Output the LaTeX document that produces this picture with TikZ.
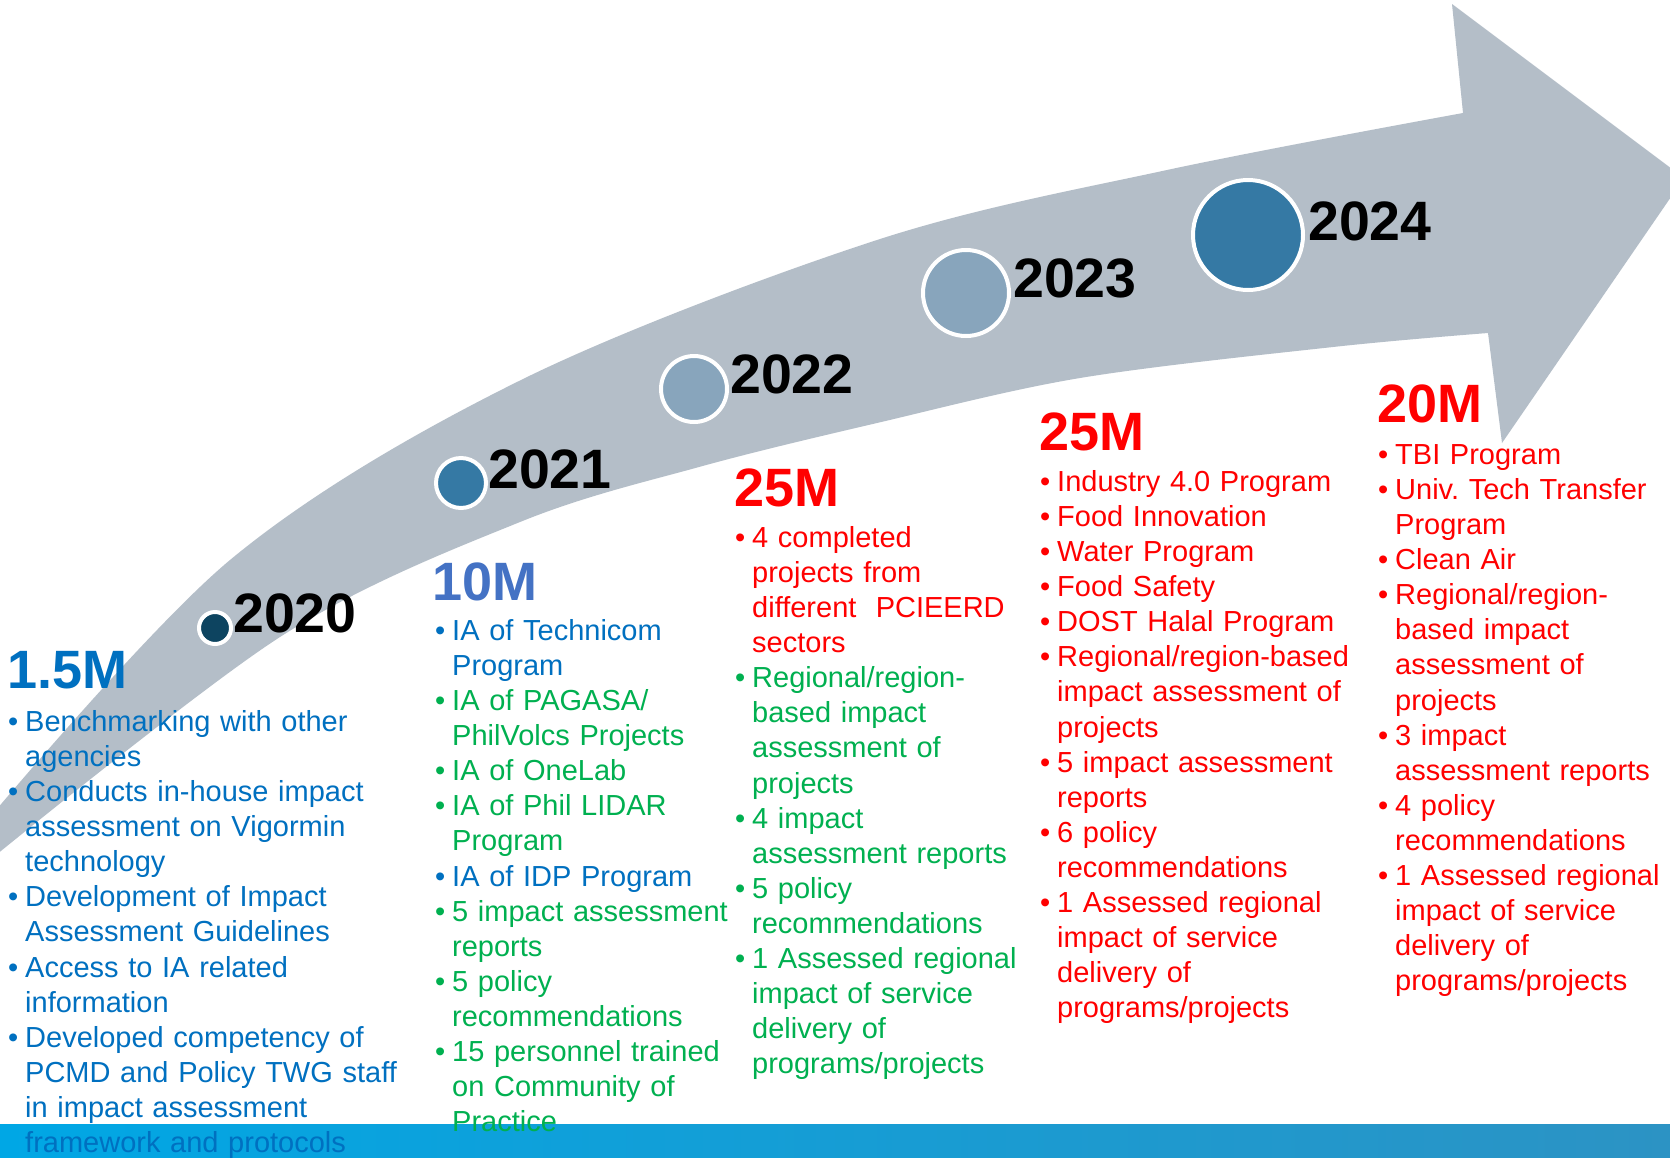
\documentclass[tikz,border=0pt]{standalone}
\usepackage{fontspec}
\setmainfont{Liberation Sans}
\frenchspacing
\definecolor{arrowgrey}{HTML}{B4BEC8}
\definecolor{dotdark}{HTML}{0D4460}
\definecolor{dotmid}{HTML}{3579A4}
\definecolor{dotlight}{HTML}{88A5BC}
\definecolor{txtblue}{HTML}{0070C0}
\definecolor{headblue}{HTML}{4472C4}
\definecolor{txtgreen}{HTML}{00B050}
\definecolor{txtred}{HTML}{FF0000}
\definecolor{stripL}{HTML}{00A7E5}
\definecolor{stripR}{HTML}{2C93C4}
\newcommand{\bitem}[2]{\par\noindent\hangindent=17pt\hangafter=1{\color{#1}\makebox[17pt][l]{\textbullet}\strut #2}}
\tikzset{
  body/.style={anchor=north west, inner sep=0pt, text width=440pt, font=\fontsize{29}{35.1}\selectfont\frenchspacing},
  headline/.style={anchor=base west, inner sep=0pt, font=\fontsize{54}{60}\selectfont\bfseries},
  yearlbl/.style={anchor=base west, inner sep=0pt, font=\fontsize{55.5}{60}\selectfont\bfseries, text=black},
  yeardot/.style={circle, draw=white, line width=4pt, inner sep=0pt},
}
\begin{document}
\begin{tikzpicture}[x=1pt,y=-1pt]
\useasboundingbox (0,0) rectangle (1670,1157);
\clip (0,0) rectangle (1670,1157);
\fill[white] (0,0) rectangle (1670,1157);
% bottom strip
\shade[left color=stripL, right color=stripR] (0,1124) rectangle (1670,1160);
% arrow
\fill[arrowgrey] plot[smooth, tension=0.55] coordinates {(-20,829) (230,560) (521,380) (877,240) (1167,170) (1463,113)}
  -- (1452,4) -- (1684,178) -- (1502,443) -- (1488,333)
  -- plot[smooth, tension=0.55] coordinates {(1488,333) (1333,347) (1080,378) (877,423) (699,467) (520,522) (280,637) (-20,868)} -- cycle;
% dots
\node[yeardot, fill=dotdark, minimum size=32pt] (c2020) at (215,628) {};
\node[yeardot, fill=dotmid, minimum size=50pt] (c2021) at (461,483) {};
\node[yeardot, fill=dotlight, minimum size=66pt] (c2022) at (694,389) {};
\node[yeardot, fill=dotlight, minimum size=86pt] (c2023) at (966,293) {};
\node[yeardot, fill=dotmid, minimum size=110pt] (c2024) at (1248,235) {};
% years
\node[yearlbl] (y2020) at (233,632) {2020};
\node[yearlbl] (y2021) at (488,488) {2021};
\node[yearlbl] (y2022) at (730,393) {2022};
\node[yearlbl] (y2023) at (1013,297) {2023};
\node[yearlbl] (y2024) at (1308,240) {2024};
% headlines
\node[headline, text=txtblue] (h1) at (7,688) {1.5M};
\node[headline, text=headblue] (h2) at (432,600) {10M};
\node[headline, text=txtred] (h3) at (734,506) {25M};
\node[headline, text=txtred] (h4) at (1039,450) {25M};
\node[headline, text=txtred] (h5) at (1377,422) {20M};
% columns
\node[body] (col1) at (8,696) {%
\bitem{txtblue}{Benchmarking with other\newline agencies}
\bitem{txtblue}{Conducts in-house impact\newline assessment on Vigormin\newline technology}
\bitem{txtblue}{Development of Impact\newline Assessment Guidelines}
\bitem{txtblue}{Access to IA related\newline information}
\bitem{txtblue}{Developed competency of\newline PCMD and Policy TWG staff\newline in impact assessment\newline framework and protocols}\par};
\node[body] (col2) at (435,605) {%
\bitem{txtblue}{IA of Technicom\newline Program}
\bitem{txtgreen}{IA of PAGASA/\newline PhilVolcs Projects}
\bitem{txtgreen}{IA of OneLab}
\bitem{txtgreen}{IA of Phil LIDAR\newline Program}
\bitem{txtblue}{IA of IDP Program}
\bitem{txtgreen}{5 impact assessment\newline reports}
\bitem{txtgreen}{5 policy\newline recommendations}
\bitem{txtgreen}{15 personnel trained\newline on Community of\newline Practice}\par};
\node[body] (col3) at (735,512) {%
\bitem{txtred}{4 completed\newline projects from\newline different~ PCIEERD\newline sectors}
\bitem{txtgreen}{Regional/region-\newline based impact\newline assessment of\newline projects}
\bitem{txtgreen}{4 impact\newline assessment reports}
\bitem{txtgreen}{5 policy\newline recommendations}
\bitem{txtgreen}{1 Assessed regional\newline impact of service\newline delivery of\newline programs/projects}\par};
\node[body] (col4) at (1040,456) {%
\bitem{txtred}{Industry 4.0 Program}
\bitem{txtred}{Food Innovation}
\bitem{txtred}{Water Program}
\bitem{txtred}{Food Safety}
\bitem{txtred}{DOST Halal Program}
\bitem{txtred}{Regional/region-based\newline impact assessment of\newline projects}
\bitem{txtred}{5 impact assessment\newline reports}
\bitem{txtred}{6 policy\newline recommendations}
\bitem{txtred}{1 Assessed regional\newline impact of service\newline delivery of\newline programs/projects}\par};
\node[body] (col5) at (1378,429) {%
\bitem{txtred}{TBI Program}
\bitem{txtred}{Univ. Tech Transfer\newline Program}
\bitem{txtred}{Clean Air}
\bitem{txtred}{Regional/region-\newline based impact\newline assessment of\newline projects}
\bitem{txtred}{3 impact\newline assessment reports}
\bitem{txtred}{4 policy\newline recommendations}
\bitem{txtred}{1 Assessed regional\newline impact of service\newline delivery of\newline programs/projects}\par};
\end{tikzpicture}
\end{document}
